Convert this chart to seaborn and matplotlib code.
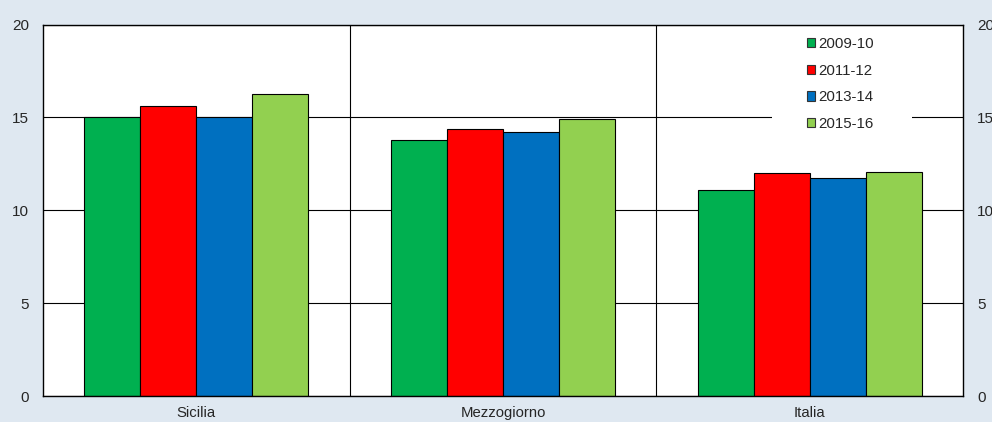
import pandas as pd
import numpy as np
import seaborn as sns
import matplotlib.pyplot as plt
from matplotlib.ticker import FixedLocator
from matplotlib.patches import Rectangle

#data
aree = ["Sicilia", "Mezzogiorno", "Italia"]
periodi = ["2009-10", "2011-12", "2013-14", "2015-16"]
v_2009_10 = [15.0, 13.8, 11.1]
v_2011_12 = [15.6, 14.4, 12.0]
v_2013_14 = [15.0, 14.2, 11.75]
v_2015_16 = [16.25, 14.9, 12.05]
colori = ["#00B050", "#FF0000", "#0070C0", "#92D050"]

#long form table for seaborn
righe = []
for p, serie in zip(periodi, [v_2009_10, v_2011_12, v_2013_14, v_2015_16]):
    for a, v in zip(aree, serie):
        righe.append({"area": a, "periodo": p, "valore": v})
df = pd.DataFrame(righe)

sns.set_style("white")
plt.rcParams['font.family'] = ['Liberation Sans', 'DejaVu Sans']

fig = plt.figure(figsize=(9.92, 4.22), dpi=100, facecolor="#DFE8F1")
ax = fig.add_axes([43/992, 26/422, 920/992, 371.5/422])
ax.set_facecolor("white")

sns.barplot(data=df, x="area", y="valore", hue="periodo", order=aree, hue_order=periodi,
            palette=colori, saturation=1, width=0.73, edgecolor="black", linewidth=0.8, ax=ax)

ax.set_ylim(0, 20)
ax.set_xlim(-0.5, 2.5)
ax.set_yticks([0, 5, 10, 15, 20])
ax.xaxis.set_minor_locator(FixedLocator([0.5, 1.5]))
ax.set_axisbelow(True)
ax.grid(axis="y", which="major", color="black", linewidth=0.8)
ax.grid(axis="x", which="minor", color="black", linewidth=0.8)
ax.grid(axis="x", which="major", visible=False)

ax.tick_params(axis="y", which="both", length=0, labelsize=11, pad=10, labelright=True)
ax.tick_params(axis="x", which="both", length=0, labelsize=10.7, pad=7)
ax.set_xlabel("")
ax.set_ylabel("")

for s in ax.spines.values():
    s.set_color("black")
    s.set_linewidth(1.0)

#white box behind the legend (hides the gridline)
ax.add_patch(Rectangle((0.792, 0.70), 0.153, 0.28, transform=ax.transAxes,
                       facecolor="white", edgecolor="none", zorder=1))

#legend
leg = ax.legend(loc="upper left", bbox_to_anchor=(0.823, 0.985), fontsize=10.8,
                frameon=False, handlelength=0.55, handleheight=0.55, handletextpad=0.2,
                labelspacing=0.85, borderpad=0.45, borderaxespad=0)
for h in leg.legend_handles:
    h.set_linewidth(0.8)
    h.set_edgecolor("#333333")

fig.savefig("out.png", dpi=100, facecolor=fig.get_facecolor())
